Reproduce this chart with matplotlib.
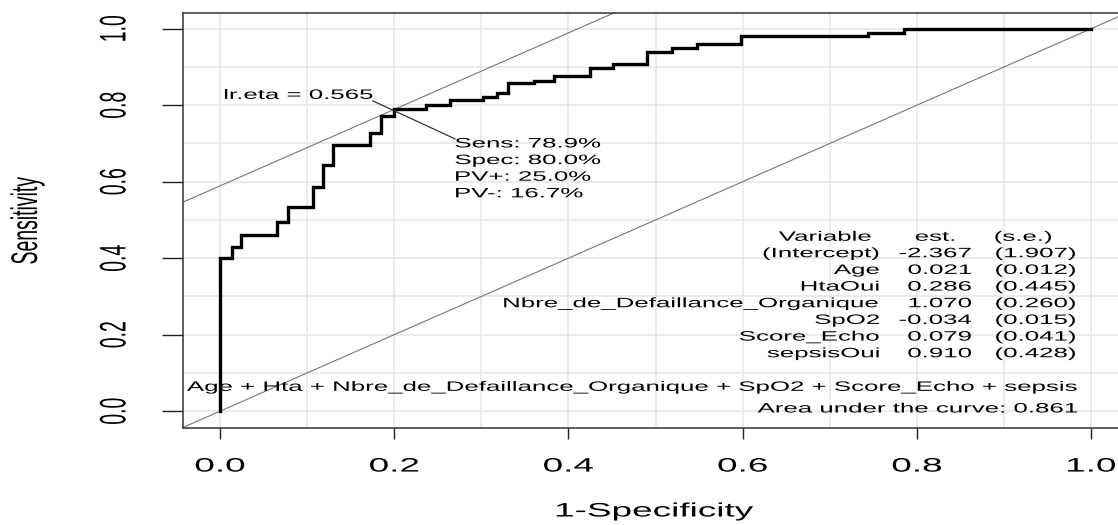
import matplotlib
matplotlib.use('Agg')
import matplotlib.pyplot as plt
import matplotlib.patheffects as pe
from matplotlib.transforms import Affine2D
import numpy as np

plt.rcParams['font.family'] = ['Liberation Sans', 'DejaVu Sans']

# ROC curve: 1-specificity where sensitivity jumps, and the new sensitivity
fpr = [0, 0, 0.0134, 0.0237, 0.065, 0.078, 0.107, 0.118, 0.130, 0.172, 0.185,
       0.200, 0.237, 0.264, 0.302, 0.318, 0.331, 0.360, 0.383, 0.425, 0.451,
       0.490, 0.519, 0.547, 0.598, 0.744, 0.785, 1.0]
tpr = [0, 0.400, 0.428, 0.460, 0.495, 0.534, 0.587, 0.643, 0.696, 0.728, 0.772,
       0.789, 0.801, 0.814, 0.821, 0.831, 0.858, 0.864, 0.875, 0.897, 0.907,
       0.940, 0.949, 0.961, 0.982, 0.989, 1.0, 1.0]

# optimal cut point
opt_fpr = 0.200
opt_sens = 0.789
opt_spec = 0.800
lr_eta = 0.565
cut_stats = ['Sens: 78.9%', 'Spec: 80.0%', 'PV+: 25.0%', 'PV-: 16.7%']

# logistic model table
variables = ['(Intercept)', 'Age', 'HtaOui', 'Nbre_de_Defaillance_Organique',
             'SpO2', 'Score_Echo', 'sepsisOui']
est = ['-2.367', '0.021', '0.286', '1.070', '-0.034', '0.079', '0.910']
se = ['(1.907)', '(0.012)', '(0.445)', '(0.260)', '(0.015)', '(0.041)', '(0.428)']
formula = 'Age + Hta + Nbre_de_Defaillance_Organique + SpO2 + Score_Echo + sepsis'
auc = 0.861

major_ticks = [0.0, 0.2, 0.4, 0.6, 0.8, 1.0]
tick_labels = ['0.0', '0.2', '0.4', '0.6', '0.8', '1.0']


class Stretch(pe.AbstractPathEffect):
    """widen the glyphs horizontally (the reference picture is stretched)"""
    def __init__(self, sx=1.9, anchor='center'):
        super().__init__()
        self.sx = sx
        self.anchor = anchor

    def draw_path(self, renderer, gc, tpath, affine, rgbFace=None):
        bb = tpath.get_extents(affine)
        x0 = {'left': bb.x0, 'center': 0.5 * (bb.x0 + bb.x1), 'right': bb.x1}[self.anchor]
        t = affine + Affine2D().translate(-x0, 0).scale(self.sx, 1).translate(x0, 0)
        renderer.draw_path(gc, tpath, t, rgbFace)


def stretch(t, anchor='center'):
    t.set_path_effects([Stretch(anchor=anchor)])
    return t


fig = plt.figure(figsize=(11.18, 5.25), dpi=100)
ax = fig.add_axes([183 / 1118, 1 - 428 / 525, (1126 - 183) / 1118, (428 - 13) / 525])
ax.set_xlim(-0.0425, 1.04)
ax.set_ylim(-0.044, 1.041)

ax.set_xticks(major_ticks)
ax.set_xticklabels(tick_labels)
ax.set_yticks(major_ticks)
ax.set_yticklabels(tick_labels)
ax.set_xticks(np.arange(0, 1.01, 0.1), minor=True)
ax.set_yticks(np.arange(0, 1.01, 0.1), minor=True)
ax.tick_params(which='minor', length=0)
ax.tick_params(axis='x', which='major', length=8, width=1.0, color='#222222',
               labelsize=14, pad=14)
ax.tick_params(axis='y', which='major', length=15, width=1.0, color='#222222',
               labelsize=14, pad=34, labelrotation=90)
for lbl in ax.get_xticklabels():
    stretch(lbl)
for lbl in ax.get_yticklabels():
    lbl.set_ha('center')
    lbl.set_va('center')
    stretch(lbl)

ax.grid(which='both', color='#e6e6e6', lw=1.1)
ax.set_axisbelow(True)
for s in ax.spines.values():
    s.set_color('#333333')
    s.set_linewidth(1.1)

# diagonals
ax.axline((0, 0), slope=1, color='#777777', lw=0.8)
ax.axline((0, opt_sens + opt_spec - 1), slope=1, color='#777777', lw=0.8)

# ROC
ax.plot(fpr, tpr, drawstyle='steps-post', color='black', lw=2.4, solid_joinstyle='miter')

# optimal point annotation
ax.plot([opt_fpr - 0.0244, opt_fpr + 0.0697], [opt_sens + 0.022, opt_sens - 0.077],
        color='#333333', lw=0.9)
stretch(ax.text(opt_fpr - 0.0244, opt_sens + 0.038, 'lr.eta = %.3f' % lr_eta,
                ha='right', va='center', fontsize=9.8), 'right')
for i, s in enumerate(cut_stats):
    stretch(ax.text(opt_fpr + 0.0697, 0.700 - 0.0435 * i, s,
                    ha='left', va='center', fontsize=9.8), 'left')

# model table
stretch(ax.text(0.748, 0.456, 'Variable', ha='right', va='center', fontsize=9.8), 'right')
stretch(ax.text(0.821, 0.456, 'est.', ha='center', va='center', fontsize=9.8), 'center')
stretch(ax.text(0.889, 0.456, '(s.e.)', ha='left', va='center', fontsize=9.8), 'left')
for i in range(len(variables)):
    y = 0.413 - 0.0436 * i
    stretch(ax.text(0.757, y, variables[i], ha='right', va='center', fontsize=9.8), 'right')
    stretch(ax.text(0.8625, y, est[i], ha='right', va='center', fontsize=9.8), 'right')
    stretch(ax.text(0.890, y, se[i], ha='left', va='center', fontsize=9.8), 'left')

stretch(ax.text(0.985, 0.0636, formula, ha='right', va='center', fontsize=9.8), 'right')
stretch(ax.text(0.985, 0.007, 'Area under the curve: %.3f' % auc,
                ha='right', va='center', fontsize=9.8), 'right')

xl = ax.set_xlabel('1-Specificity', fontsize=14, va='center')
ax.xaxis.set_label_coords(0.5, -0.2024)
stretch(xl)
yl = ax.set_ylabel('Sensitivity', fontsize=14, va='center')
ax.yaxis.set_label_coords(-0.1644, 0.5)
stretch(yl)

fig.savefig('out.png', dpi=100)
